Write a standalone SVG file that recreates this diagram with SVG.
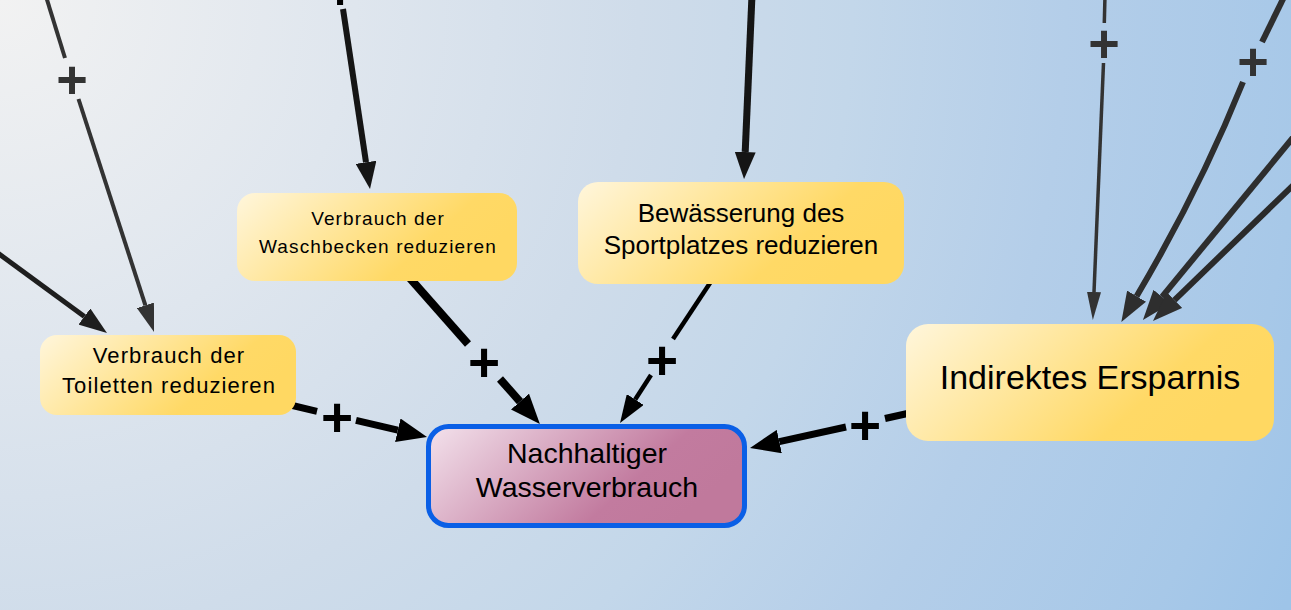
<svg xmlns="http://www.w3.org/2000/svg" width="1291" height="610" viewBox="0 0 1291 610">
<defs>
<radialGradient id="bg" gradientUnits="userSpaceOnUse" cx="0" cy="0" r="1420" fx="0" fy="0">
<stop offset="0" stop-color="#f2f2f2"/>
<stop offset="0.25" stop-color="#dfe6ee"/>
<stop offset="0.45" stop-color="#cfdcea"/>
<stop offset="0.6" stop-color="#c3d7ea"/>
<stop offset="0.75" stop-color="#b4cee9"/>
<stop offset="0.92" stop-color="#a7c8e8"/>
<stop offset="1" stop-color="#9ec4e8"/>
</radialGradient>
<linearGradient id="yel" x1="0" y1="0" x2="1" y2="0.35">
<stop offset="0" stop-color="#fff6dc"/>
<stop offset="0.78" stop-color="#ffd966"/>
<stop offset="1" stop-color="#ffd862"/>
</linearGradient>
<linearGradient id="pink" x1="0" y1="0" x2="1" y2="0.35">
<stop offset="0" stop-color="#f3e2ec"/>
<stop offset="0.75" stop-color="#c27b9f"/>
<stop offset="1" stop-color="#c0799c"/>
</linearGradient>
<marker id="ahBlk" markerUnits="userSpaceOnUse" markerWidth="30" markerHeight="24" refX="0" refY="12" orient="auto"><path d="M0,0 L30,12 L0,24 z" fill="#000"/></marker>
<marker id="ahBlkS" markerUnits="userSpaceOnUse" markerWidth="28" markerHeight="20" refX="0" refY="10" orient="auto"><path d="M0,0 L28,10 L0,20 z" fill="#000"/></marker>
<marker id="ahDk" markerUnits="userSpaceOnUse" markerWidth="27" markerHeight="21" refX="0" refY="10.5" orient="auto"><path d="M0,0 L27,10.5 L0,21 z" fill="#151515"/></marker>
<marker id="ahA" markerUnits="userSpaceOnUse" markerWidth="28" markerHeight="20" refX="0" refY="10" orient="auto"><path d="M0,0 L28,10 L0,20 z" fill="#1e1e1e"/></marker>
<marker id="ahG" markerUnits="userSpaceOnUse" markerWidth="28" markerHeight="18" refX="0" refY="9" orient="auto"><path d="M0,0 L28,9 L0,18 z" fill="#333"/></marker>
<marker id="ahGs" markerUnits="userSpaceOnUse" markerWidth="28" markerHeight="14" refX="0" refY="7" orient="auto"><path d="M0,0 L28,7 L0,14 z" fill="#333"/></marker>
<marker id="ahGL" markerUnits="userSpaceOnUse" markerWidth="30" markerHeight="22" refX="0" refY="11" orient="auto"><path d="M0,0 L30,11 L0,22 z" fill="#2e2e2e"/></marker>
</defs>
<style>
.ln{fill:none;stroke-linecap:butt}
.blk{stroke:#000}
.dk{stroke:#151515}
.gr{stroke:#333}
.pl{font-family:"Liberation Sans",Arial,sans-serif;text-anchor:middle;font-weight:bold}
.plb{font-size:55px;fill:#000}
.plg{font-size:54px;fill:#333}
.node{fill:url(#yel)}
.t{font-family:"Liberation Sans",Arial,sans-serif;fill:#000;text-anchor:middle}
</style>
<rect x="0" y="0" width="1291" height="610" fill="url(#bg)"/>

<g id="connectors">
  <!-- A: offscreen left -> Toiletten -->
  <path class="ln" stroke="#1e1e1e" stroke-width="5" d="M-20,240 L84.4,316.5" marker-end="url(#ahA)"/>
  <!-- B: top -> Toiletten -->
  <path class="ln gr" stroke-width="4" d="M44,-10 L65,58"/>
  <path class="ln gr" stroke-width="4" d="M78.5,99 L145.4,305.3" marker-end="url(#ahG)"/>
  <text class="pl plg" x="72" y="98">+</text>
  <!-- C: top -> Waschbecken -->
  <path class="ln dk" stroke-width="6" d="M343,9 L366,162.3" marker-end="url(#ahDk)"/>
  <text class="pl plb" x="340" y="9">+</text>
  <!-- D: top -> Sportplatz -->
  <path class="ln dk" stroke-width="7" d="M752,-5 L745.2,152" marker-end="url(#ahDk)"/>
  <!-- E: Waschbecken -> Nachhaltiger -->
  <path class="ln blk" stroke-width="8" d="M408,276 L468,344"/>
  <path class="ln blk" stroke-width="8" d="M500,379 L520,401.6" marker-end="url(#ahBlk)"/>
  <text class="pl plb" x="484" y="381">+</text>
  <!-- F: Sportplatz -> Nachhaltiger -->
  <path class="ln blk" stroke-width="4.5" d="M712,280 L673,339"/>
  <path class="ln blk" stroke-width="4.5" d="M651,375 L635.2,399.5" marker-end="url(#ahBlkS)"/>
  <text class="pl plb" x="662" y="379">+</text>
  <!-- G: Toiletten -> Nachhaltiger -->
  <path class="ln blk" stroke-width="7" d="M282,403 L317,411.3"/>
  <path class="ln blk" stroke-width="7" d="M356,420.4 L397.8,430.2" marker-end="url(#ahBlk)"/>
  <text class="pl plb" x="337" y="436">+</text>
  <!-- H: Indirektes -> Nachhaltiger -->
  <path class="ln blk" stroke-width="7" d="M912,412.5 L885,418.5"/>
  <path class="ln blk" stroke-width="7" d="M846,427 L779.3,441.6" marker-end="url(#ahBlk)"/>
  <text class="pl plb" x="865" y="444">+</text>
  <!-- I: top -> Indirektes -->
  <path class="ln gr" stroke-width="3.5" d="M1105,-5 L1104.3,23"/>
  <path class="ln gr" stroke-width="3.5" d="M1103.5,63 L1094,292" marker-end="url(#ahGs)"/>
  <text class="pl plg" x="1104" y="62">+</text>
  <!-- J: top-right (curved) -> Indirektes -->
  <path class="ln" stroke="#2e2e2e" stroke-width="6" d="M1284,-3 L1262,42"/>
  <path class="ln" stroke="#2e2e2e" stroke-width="6" d="M1243,82 Q1200,189 1136.6,296.2" marker-end="url(#ahGL)"/>
  <text class="pl plg" x="1253" y="80">+</text>
  <!-- K1, K2: offscreen right -> Indirektes -->
  <path class="ln" stroke="#2e2e2e" stroke-width="6" d="M1310,117 L1162,296.8" marker-end="url(#ahGL)"/>
  <path class="ln" stroke="#2a2a2a" stroke-width="6" d="M1312,167 L1174.5,300.1" marker-end="url(#ahGL)"/>
</g>

<g id="node-toiletten">
  <rect class="node" x="40" y="335" width="256" height="80" rx="17"/>
  <text class="t" font-size="22" letter-spacing="1.1" x="169" y="363">Verbrauch der</text>
  <text class="t" font-size="22" letter-spacing="1.1" x="169" y="393">Toiletten reduzieren</text>
</g>
<g id="node-waschbecken">
  <rect class="node" x="237" y="193" width="280" height="88" rx="18"/>
  <text class="t" font-size="19" letter-spacing="1.1" x="378" y="225">Verbrauch der</text>
  <text class="t" font-size="19" letter-spacing="1.1" x="378" y="253">Waschbecken reduzieren</text>
</g>
<g id="node-sportplatz">
  <rect class="node" x="578" y="182" width="326" height="102" rx="20"/>
  <text class="t" font-size="26" x="741" y="222">Bewässerung des</text>
  <text class="t" font-size="26" x="741" y="254">Sportplatzes reduzieren</text>
</g>
<g id="node-indirektes">
  <rect class="node" x="906" y="324" width="368" height="117" rx="22"/>
  <text class="t" font-size="34" x="1090" y="389">Indirektes Ersparnis</text>
</g>
<g id="node-nachhaltiger">
  <rect x="428.5" y="426.5" width="316" height="99" rx="20" fill="url(#pink)" stroke="#0a5fe6" stroke-width="5"/>
  <text class="t" font-size="28.5" x="587" y="463">Nachhaltiger</text>
  <text class="t" font-size="28.5" x="587" y="497">Wasserverbrauch</text>
</g>
</svg>
